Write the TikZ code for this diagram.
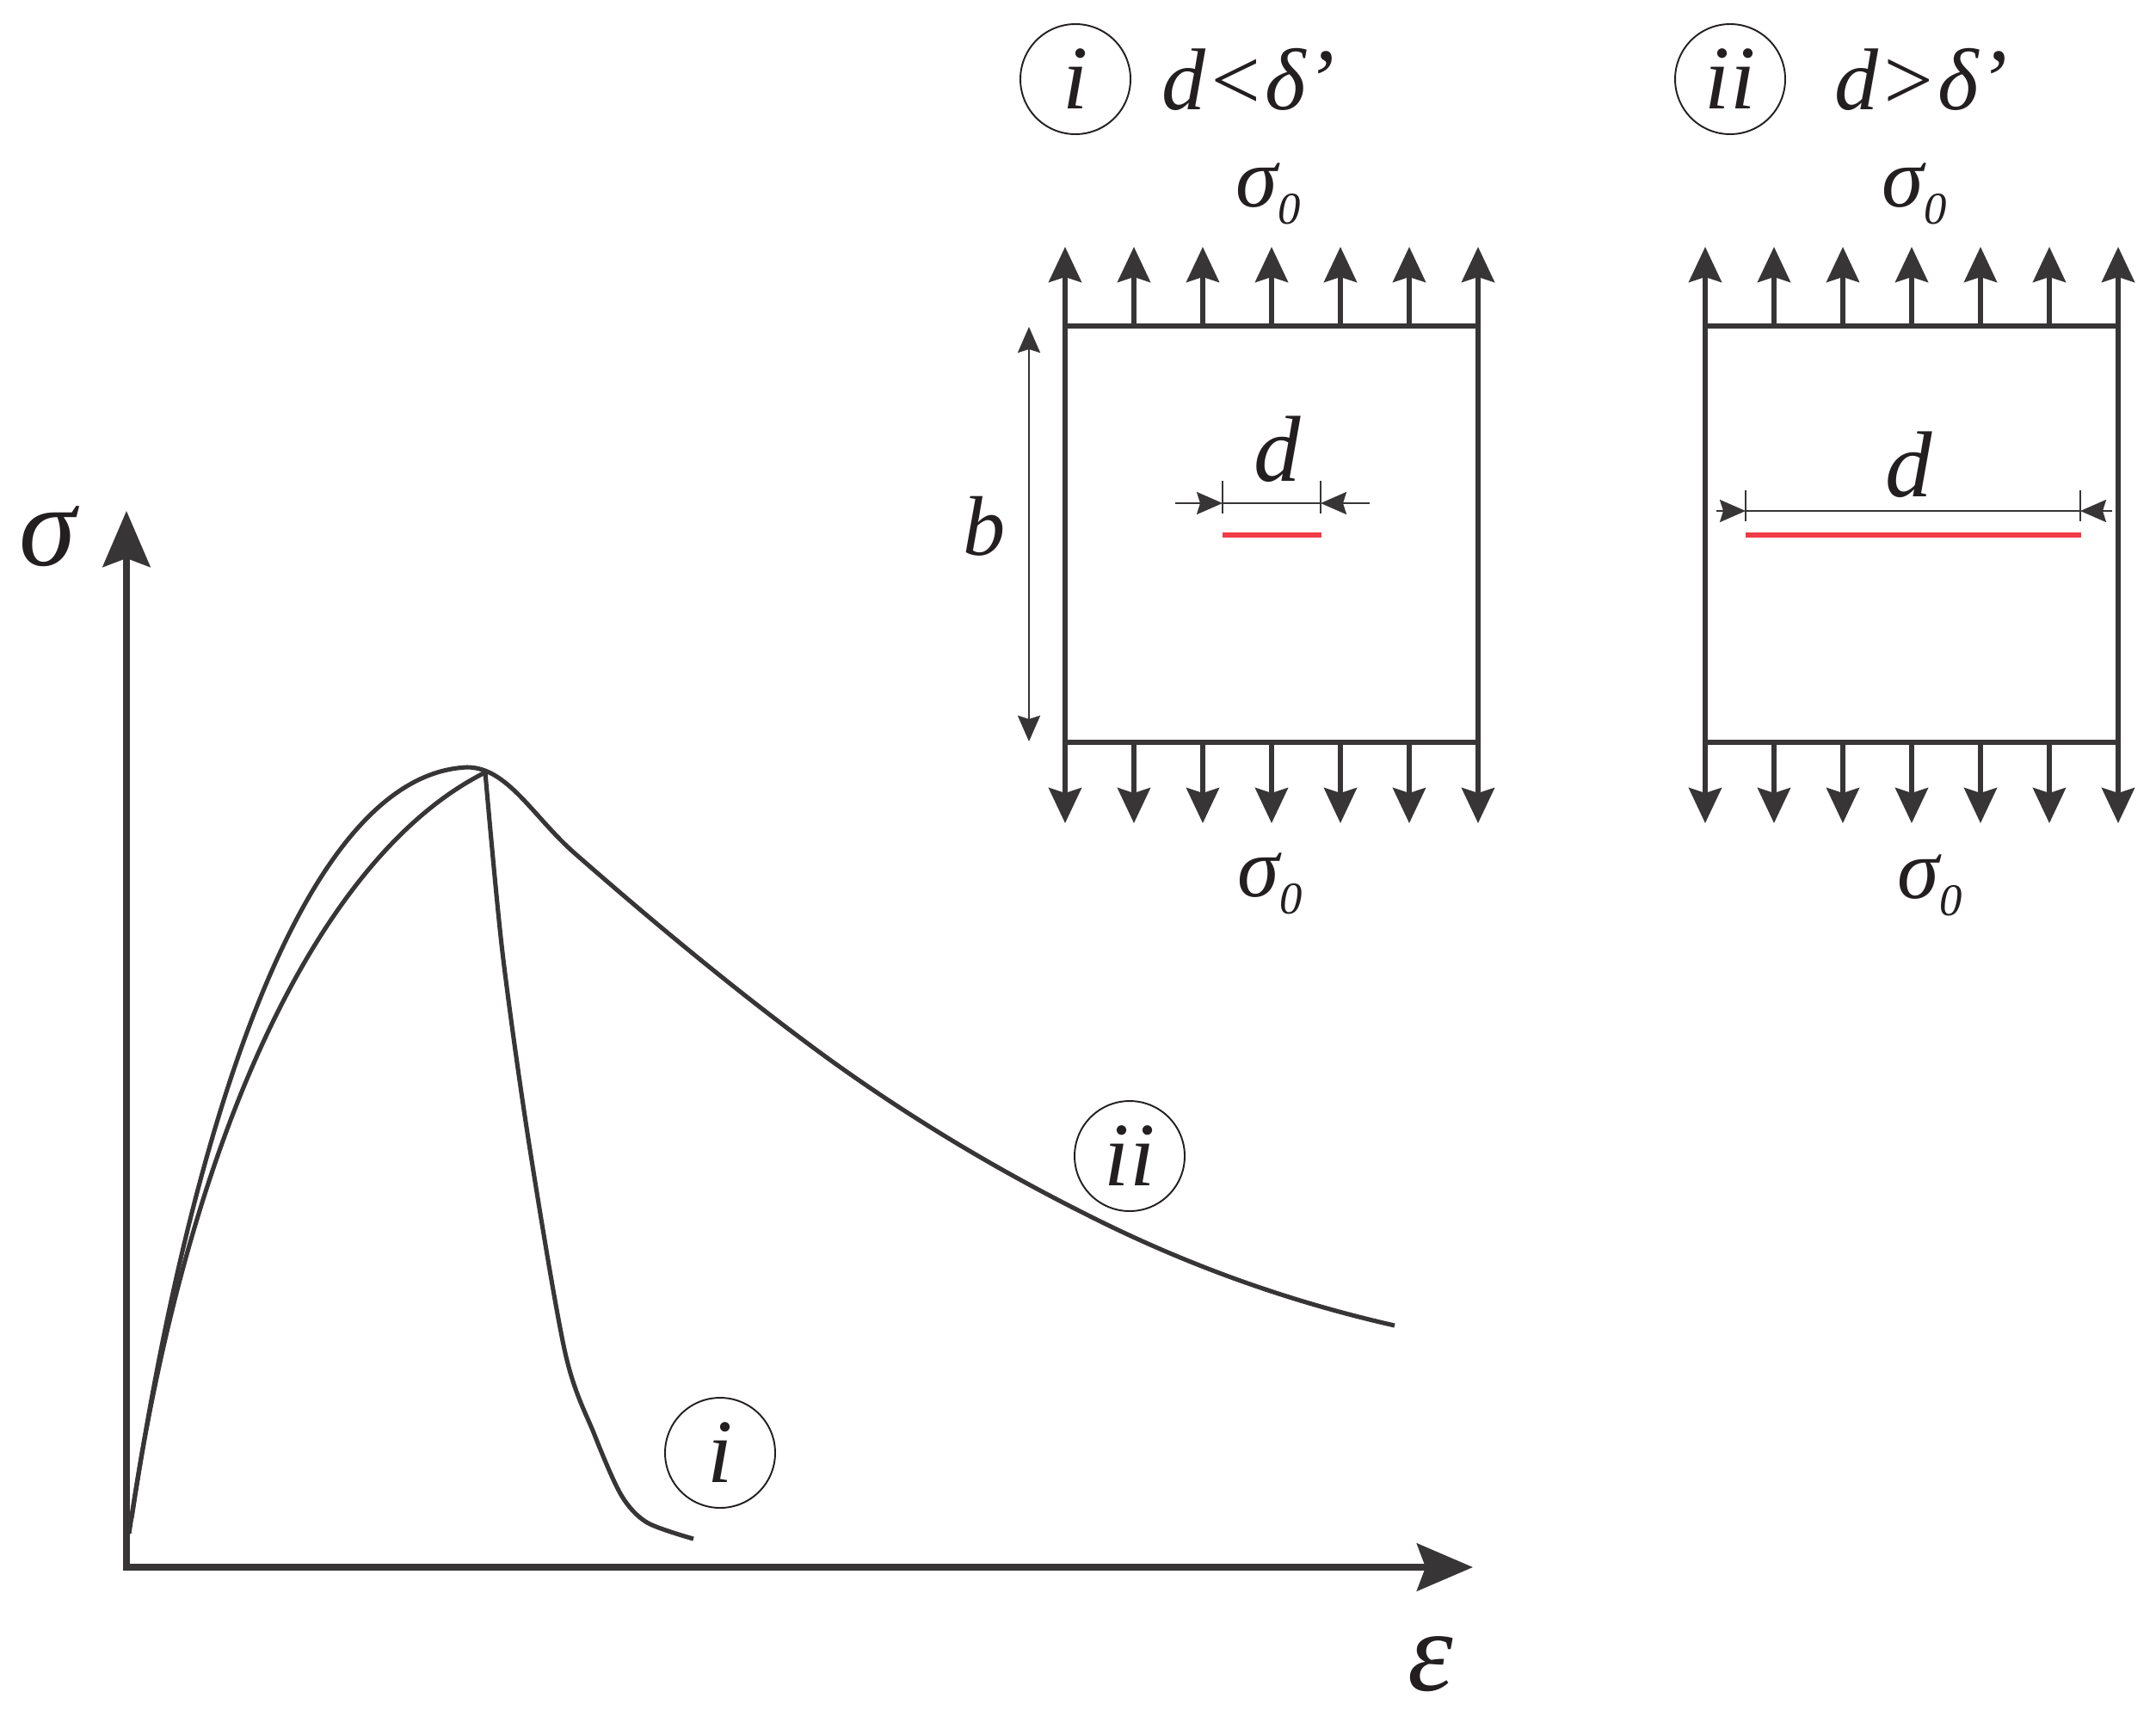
\documentclass[tikz,border=0pt]{standalone}
\usepackage{fontspec}
\setmainfont{Liberation Serif}
\usetikzlibrary{arrows.meta,calc,positioning}
\definecolor{ink}{HTML}{373536}
\definecolor{txt}{HTML}{231F20}
\definecolor{crackred}{HTML}{F03C46}
\newcommand{\sigzero}{σ\raisebox{-0.2cm}{\fontsize{15}{15}\selectfont 0}}

\begin{document}
\begin{tikzpicture}[x=1cm, y=-1cm, line join=miter,
  axis/.style={draw=ink, line width=2.2pt, {Stealth[length=6.5mm, width=5.5mm, inset=1mm]}-{Stealth[length=6.5mm, width=5.5mm, inset=1mm]}},
  curve/.style={draw=ink, line width=1.45pt},
  specimen/.style={rectangle, draw=ink, line width=1.6pt, minimum width=4.8cm, minimum height=4.84cm, inner sep=0pt, outer sep=0pt},
  force/.style={draw=ink, line width=1.6pt, -{Stealth[length=4.1mm, width=3.8mm, inset=0.6mm]}},
  dim/.style={draw=ink, line width=0.65pt},
  dimarrow/.style={dim, -{Stealth[length=3mm, width=2.6mm, inset=0.4mm]}},
  crack/.style={draw=crackred, line width=1.6pt},
  tag/.style={circle, draw=txt, line width=0.55pt, minimum size=1.28cm, inner sep=0pt, text=txt, font=\itshape\fontsize{30}{32}\selectfont},
  lbl/.style={text=txt, inner sep=0pt, font=\itshape\fontsize{28}{30}\selectfont},
  dlbl/.style={lbl, font=\itshape\fontsize{31}{33}\selectfont},
  biglbl/.style={lbl, font=\itshape\fontsize{38}{40}\selectfont}]
\useasboundingbox (0,0) rectangle (25.06,19.94);

%% axes
\coordinate (O) at (1.47,18.22);
\coordinate (ytip) at (1.47,5.94);
\coordinate (xtip) at (17.12,18.22);
\draw[axis] (ytip) -- (O) -- (xtip);
\node[biglbl] (sig) at (0.55,6.24) {σ};
\node[biglbl] (eps) at (16.63,19.35) {ε};

%% stress-strain curves
\coordinate (top) at (5.43,8.92);
\coordinate (peak) at (5.64,8.98);
\coordinate (knee) at (6.68,9.92);
\coordinate (endii) at (16.21,15.41);
\draw[curve] (1.53,17.65) .. controls (2.2,13.2) and (3.5,9.0) .. (top)
  .. controls (5.9,8.92) and (6.2,9.5) .. (knee)
  .. controls (7.65,10.77) and (8.62,11.57) .. (9.59,12.28)
  .. controls (10.61,13.02) and (11.63,13.62) .. (12.65,14.13)
  .. controls (13.84,14.73) and (15.02,15.14) .. (endii);
\draw[curve] (1.50,17.83) .. controls (2.2,13.0) and (3.8,9.9) .. (peak);
\draw[curve] plot[smooth] coordinates {(peak) (5.84,11.07) (6.15,13.30) (6.57,15.73) (6.91,16.68) (7.22,17.38) (7.52,17.70) (8.06,17.89)};
\node[tag] (tagi) at (8.37,16.89) {i};
\node[tag] (tagii) at (13.13,13.44) {ii};

%% specimens under tension
\node[specimen] (boxi) at (14.78,6.21) {};
\node[specimen] (boxii) at (22.22,6.21) {};
\foreach \b in {boxi,boxii}
  \foreach \k in {0,...,6} {
    \draw[force] ($(\b.north west)!\k/6!(\b.north east)$) -- ++(0,-0.92);
    \draw[force] ($(\b.south west)!\k/6!(\b.south east)$) -- ++(0,0.94);
  }
\node[lbl] (s0ti) at (14.74,2.25) {\sigzero};
\node[lbl] (s0tii) at (22.25,2.25) {\sigzero};
\node[lbl] (s0bi) at (14.76,10.27) {\sigzero};
\node[lbl] (s0bii) at (22.43,10.29) {\sigzero};

%% legend
\node[tag] (legi) at (12.50,0.92) {i};
\node[lbl, font=\itshape\fontsize{29}{31}\selectfont, right=0.35cm of legi] (condi) {d<δ’};
\node[tag] (legii) at (20.11,0.92) {ii};
\node[lbl, font=\itshape\fontsize{29}{31}\selectfont, right=0.56cm of legii] (condii) {d>δ’};

%% width b
\draw[dim, line width=0.75pt, {Stealth[length=3mm, width=2.6mm, inset=0.4mm]}-{Stealth[length=3mm, width=2.6mm, inset=0.4mm]}] (11.96,3.80) -- (11.96,8.62);
\node[lbl] (blbl) at (11.44,6.12) {b};

%% short crack
\coordinate (di1) at (14.21,5.85);
\coordinate (di2) at (15.35,5.85);
\draw[dim] ($(di1)+(0,-0.26)$) -- ($(di1)+(0,0.12)$);
\draw[dim] ($(di2)+(0,-0.26)$) -- ($(di2)+(0,0.12)$);
\draw[dim] (di1) -- (di2);
\draw[dimarrow] (13.66,5.85) -- (di1);
\draw[dimarrow] (15.92,5.85) -- (di2);
\draw[crack] (14.21,6.22) -- (15.36,6.22);
\node[dlbl] (dlbi) at (14.85,5.22) {d};

%% long crack
\coordinate (dii1) at (20.29,5.94);
\coordinate (dii2) at (24.18,5.94);
\draw[dim] ($(dii1)+(0,-0.24)$) -- ($(dii1)+(0,0.12)$);
\draw[dim] ($(dii2)+(0,-0.24)$) -- ($(dii2)+(0,0.12)$);
\draw[dim] (dii1) -- (dii2);
\draw[dimarrow] (19.95,5.94) -- (dii1);
\draw[dimarrow] (24.55,5.94) -- (dii2);
\draw[crack] (20.29,6.22) -- (24.19,6.22);
\node[dlbl] (dlbii) at (22.19,5.40) {d};
\end{tikzpicture}
\end{document}
